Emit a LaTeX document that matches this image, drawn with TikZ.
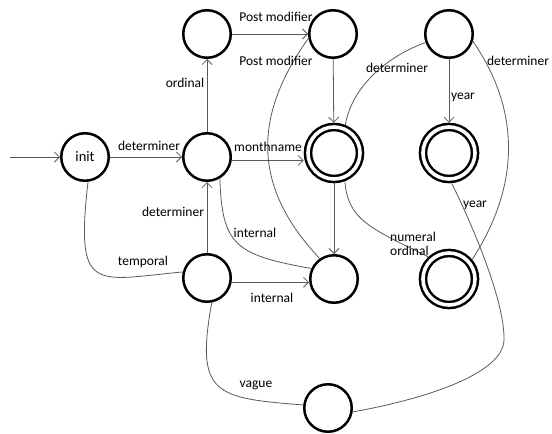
\documentclass[tikz,border=0pt]{standalone}
\usepackage{fontspec}
\setmainfont{Carlito}
\usetikzlibrary{arrows.meta}
\tikzset{
  statenode/.style={
    circle, draw, line width=2.5pt, minimum size=47.5pt, inner sep=0pt,
    font=\fontsize{14.5}{16}\selectfont
  },
  finalnode/.style={
    circle, draw, line width=2.5pt, double, double distance=3.6pt,
    minimum size=52pt, inner sep=0pt, outer sep=4.3pt
  },
  transarrow/.style={
    -{Straight Barb[length=5pt,width=10pt]}, line width=0.8pt, color=black!65
  },
  transline/.style={
    line width=0.8pt, color=black!65
  },
  translabel/.style={
    font=\fontsize{13.5}{14}\selectfont, inner sep=1pt, align=left
  },
}

\begin{document}
\begin{tikzpicture}[x=1pt, y=-1pt]
  \useasboundingbox (0,0) rectangle (552,434);
  % States
  \node[statenode] (init) at (85,157) {init};
  \node[statenode] (det) at (207,157) {};
  \node[statenode] (ord) at (207,34) {};
  \node[statenode] (post) at (333,34) {};
  \node[statenode] (yr) at (449,34) {};
  \node[finalnode] (month) at (334,153) {};
  \node[finalnode] (yearacc) at (449,153) {};
  \node[statenode] (temp) at (207,278) {};
  \node[statenode] (intl) at (334,279) {};
  \node[finalnode] (numo) at (449,279) {};
  \node[statenode] (vague) at (328,408) {};
  \coordinate (start) at (10,157);

  % Straight transitions
  \draw[transarrow] (start) -- (init);
  \draw[transarrow] (init) -- (det);
  \draw[transarrow] (det) -- (ord);
  \draw[transarrow] (ord) -- (post);
  \draw[transarrow] (post) -- (month);
  \draw[transarrow] (det.-8) -- (det.-8 -| month.west);
  \draw[transarrow] (month) -- (intl);
  \draw[transarrow] (yr) -- (yearacc);
  \draw[transarrow] (temp) -- (det);
  \draw[transarrow] (temp.-10) -- (temp.-10 -| intl.west);

  % Curved transitions
  \draw[transline] (post.190) .. controls (250,120) and (255,190) .. (intl.125);
  \draw[transline] (yr.200) .. controls (390,55) and (352,85) .. (month.68);
  \draw[transline] (yr.-17) .. controls (510,95) and (530,170) .. (numo.40);
  \draw[transline] (yearacc.275) .. controls (470,220) and (505,300) .. (504,340)
    .. controls (503,375) and (420,400) .. (vague.-9);
  \draw[transline] (month.291) .. controls (348,220) and (370,228) .. (numo.133);
  \draw[transline] (det.301) .. controls (222,245) and (235,255) .. (intl.155);
  \draw[transline] (init.277) .. controls (75,295) and (95,280) .. (temp.166);
  \draw[transline] (temp.281) .. controls (195,395) and (215,398) .. (vague.173);

  % Labels
  \node[translabel] (l1) at (149,146) {determiner};
  \node[translabel] (l2) at (185,83) {ordinal};
  \node[translabel] (l3) at (276,17) {Post modifier};
  \node[translabel] (l4) at (276,61) {Post modifier};
  \node[translabel] (l5) at (268,147) {monthname};
  \node[translabel] (l6) at (397,68) {determiner};
  \node[translabel] (l7) at (463,97) {year};
  \node[translabel] (l8) at (518,61) {determiner};
  \node[translabel] (l9) at (413,244) {numeral\\ordinal};
  \node[translabel] (l10) at (255,233) {internal};
  \node[translabel] (l11) at (272,298) {internal};
  \node[translabel] (l12) at (173,212) {determiner};
  \node[translabel] (l13) at (143,262) {temporal};
  \node[translabel] (l14) at (256,385) {vague};
  \node[translabel] (l15) at (475,205) {year};
\end{tikzpicture}
\end{document}
